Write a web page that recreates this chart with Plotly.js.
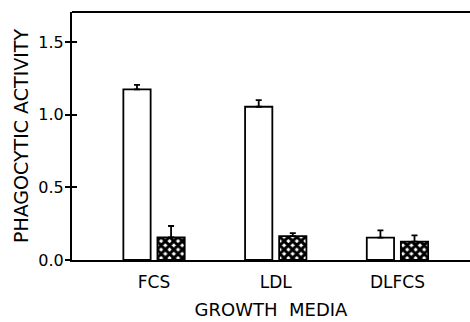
<!DOCTYPE html>
<html>
<head>
<meta charset="utf-8">
<script src="https://cdn.plot.ly/plotly-3.0.1.min.js"></script>
<style>html,body{margin:0;padding:0;background:#fff;}#chart{width:470px;height:322px;}</style>
</head>
<body>
<div id="chart"></div>
<script>
const categories = ["FCS", "LDL", "DLFCS"];
const openValues = [1.175, 1.055, 0.154];
const openErrors = [0.03, 0.046, 0.05];
const hatchedValues = [0.156, 0.165, 0.126];
const hatchedErrors = [0.078, 0.02, 0.044];
const yTickValues = [0, 0.5, 1.0, 1.5];
const yTickLabels = ["0.0", "0.5", "1.0", "1.5"];

const FONT = "DejaVu Sans, Liberation Sans, sans-serif";

const traces = [
  {
    type: "bar", x: categories, y: openValues, name: "open", showlegend: false,
    marker: {color: "#ffffff", line: {color: "#000", width: 1.8}},
    error_y: {type: "data", symmetric: false, array: openErrors, arrayminus: [0,0,0],
              color: "#000", thickness: 1.8, width: 3}
  },
  {
    type: "bar", x: categories, y: hatchedValues, name: "hatched", showlegend: false,
    marker: {color: "#ffffff", line: {color: "#000", width: 1.8},
             pattern: {shape: "x", fgcolor: "#000", bgcolor: "#fff", size: 6, solidity: 0.75}},
    error_y: {type: "data", symmetric: false, array: hatchedErrors, arrayminus: [0,0,0],
              color: "#000", thickness: 1.8, width: 3}
  }
];

const layout = {
  width: 470, height: 322,
  margin: {l: 72, r: 0, t: 12, b: 62},
  paper_bgcolor: "#fff", plot_bgcolor: "#fff",
  barmode: "group", bargap: 0.44, bargroupgap: 0.2,
  font: {family: FONT, color: "#000"},
  xaxis: {
    range: [-0.674, 2.596], showgrid: false, zeroline: false,
    showline: true, linecolor: "#000", linewidth: 2, ticks: "",
    ticklabelstandoff: 6,
    tickfont: {size: 17, family: FONT, color: "#000"},
    title: {text: "GROWTH  MEDIA", font: {size: 18, family: FONT, color: "#000"}, standoff: 12}
  },
  yaxis: {
    range: [0, 1.707], showgrid: false, zeroline: false,
    showline: true, linecolor: "#000", linewidth: 2,
    tickmode: "array", tickvals: yTickValues, ticktext: yTickLabels,
    ticks: "outside", ticklen: 5, tickwidth: 2, tickcolor: "#000",
    ticklabelstandoff: -2,
    tickfont: {size: 16, family: FONT, color: "#000"},
    title: {text: "PHAGOCYTIC ACTIVITY", font: {size: 19, family: FONT, color: "#000"}, standoff: 5}
  },
  yaxis2: {
    overlaying: "y", range: [0, 1.707], side: "left",
    showgrid: false, zeroline: false, showline: false,
    tickmode: "array", tickvals: yTickValues, showticklabels: false,
    ticks: "inside", ticklen: 5, tickwidth: 2, tickcolor: "#000"
  },
  shapes: [
    {type: "line", xref: "paper", yref: "paper", x0: 0, x1: 1, y0: 1, y1: 1,
     line: {color: "#000", width: 2}}
  ]
};

// invisible trace to activate yaxis2
traces.push({type: "scatter", x: [categories[0]], y: [0], yaxis: "y2", mode: "markers",
  marker: {opacity: 0}, showlegend: false, hoverinfo: "skip"});

Plotly.newPlot("chart", traces, layout, {staticPlot: true, displayModeBar: false});
</script>
</body>
</html>
